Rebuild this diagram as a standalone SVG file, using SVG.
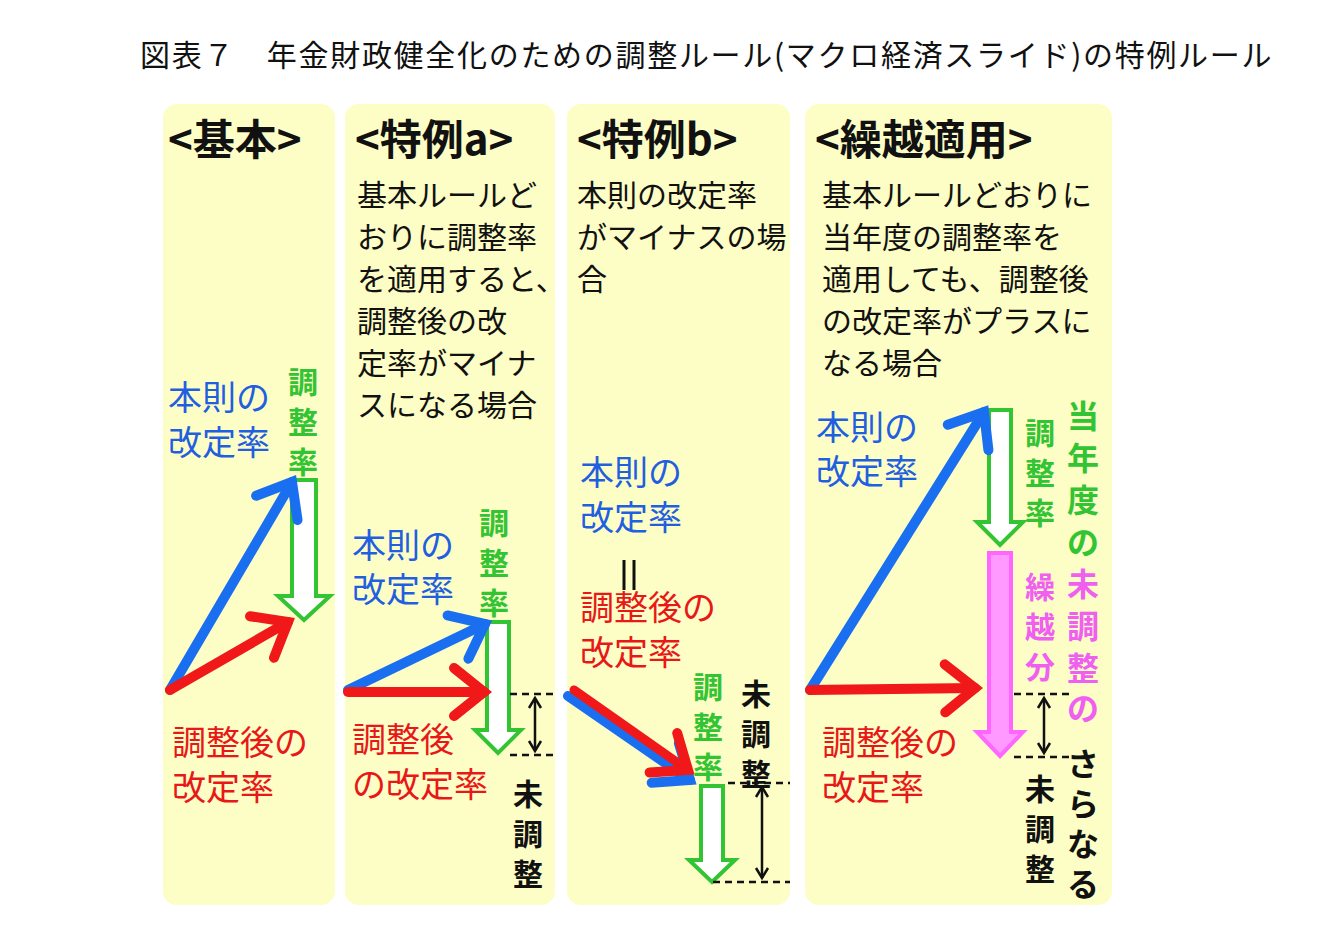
<svg xmlns="http://www.w3.org/2000/svg" width="1317" height="936" viewBox="0 0 1317 936">
<style>
text{font-family:"Noto Sans CJK JP","Noto Sans",sans-serif}
.t{font-size:30px;fill:#111}
.h{font-size:42px;font-weight:bold;fill:#111}
.b{font-size:34px;fill:#1f5fe0}
.r{font-size:34px;fill:#e81818}
.g{font-size:30px;font-weight:bold;fill:#33c433;text-anchor:middle}
.p{font-size:30px;font-weight:bold;fill:#f060f0;text-anchor:middle}
.k{font-size:30px;font-weight:bold;fill:#111;text-anchor:middle}
.panel{fill:#fdfdc6}
.ha{fill:#fff;stroke:#33c433;stroke-width:4}
.dash{stroke:#111;stroke-width:2.5;stroke-dasharray:7 5}
.dbl{stroke:#111;stroke-width:2.5;marker-start:url(#mk);marker-end:url(#mk)}
</style>
<defs>
<marker id="mb" markerUnits="userSpaceOnUse" viewBox="-40 -30 50 60" markerWidth="50" markerHeight="60" refX="0" refY="0" orient="auto"><path d="M-30,-24 L0,0 L-30,24" fill="none" stroke="#1a6ff0" stroke-width="10" stroke-linecap="round"/></marker>
<marker id="mr" markerUnits="userSpaceOnUse" viewBox="-40 -30 50 60" markerWidth="50" markerHeight="60" refX="0" refY="0" orient="auto"><path d="M-30,-24 L0,0 L-30,24" fill="none" stroke="#f01818" stroke-width="10" stroke-linecap="round"/></marker>
<marker id="mk" markerUnits="userSpaceOnUse" viewBox="-12 -8 14 16" markerWidth="14" markerHeight="16" refX="0" refY="0" orient="auto-start-reverse"><path d="M-10,-6 L0,0 L-10,6" fill="none" stroke="#111" stroke-width="2.5"/></marker>
</defs>
<rect width="1317" height="936" fill="#fff"/>
<text x="140" y="66" style="font-size:30px;fill:#111;letter-spacing:1.7px">図表７　年金財政健全化のための調整ルール(マクロ経済スライド)の特例ルール</text>

<g id="panel1">
<rect class="panel" x="163" y="104" width="172" height="801" rx="14"/>
<text class="h" x="168" y="155">&lt;基本&gt;</text>
<text class="b" x="168" y="410">本則の</text><text class="b" x="168" y="455">改定率</text>
<text class="g" x="303" y="393">調</text><text class="g" x="303" y="433">整</text><text class="g" x="303" y="473">率</text>
<path class="ha" d="M292,480 H316 V596 H330 L304,620 L278,596 H292 Z"/>
<text class="r" x="172" y="755">調整後の</text><text class="r" x="172" y="800">改定率</text>
</g>

<g id="panel2">
<rect class="panel" x="345" y="104" width="210" height="801" rx="14"/>
<text class="h" x="355" y="155">&lt;特例a&gt;</text>
<text class="t" x="357" y="206">基本ルールど</text><text class="t" x="357" y="248">おりに調整率</text><text class="t" x="357" y="290">を適用すると、</text><text class="t" x="357" y="332">調整後の改</text><text class="t" x="357" y="374">定率がマイナ</text><text class="t" x="357" y="416">スになる場合</text>
<text class="b" x="352" y="558">本則の</text><text class="b" x="352" y="602">改定率</text>
<text class="g" x="494" y="534">調</text><text class="g" x="494" y="574">整</text><text class="g" x="494" y="614">率</text>
<path class="ha" d="M487,622 H509 V730 H521 L498,753 L475,730 H487 Z"/>
<text class="r" x="352" y="752">調整後</text><text class="r" x="352" y="797">の改定率</text>
<text class="k" x="528" y="805">未</text><text class="k" x="528" y="845">調</text><text class="k" x="528" y="885">整</text>
</g>

<g id="panel3">
<rect class="panel" x="567" y="104" width="223" height="801" rx="14"/>
<text class="h" x="577" y="155">&lt;特例b&gt;</text>
<text class="t" x="577" y="206">本則の改定率</text><text class="t" x="577" y="248">がマイナスの場</text><text class="t" x="577" y="290">合</text>
<text class="b" x="580" y="485">本則の</text><text class="b" x="580" y="530">改定率</text>
<line x1="624" y1="560" x2="624" y2="590" stroke="#111" stroke-width="3"/><line x1="634" y1="560" x2="634" y2="590" stroke="#111" stroke-width="3"/>
<text class="r" x="580" y="620">調整後の</text><text class="r" x="580" y="665">改定率</text>
<text class="g" x="708" y="698">調</text><text class="g" x="708" y="738">整</text><text class="g" x="708" y="778">率</text>
<path class="ha" d="M701,786 H723 V860 H735 L712,882 L689,860 H701 Z"/>
<text class="k" x="756" y="705">未</text><text class="k" x="756" y="745">調</text><text class="k" x="756" y="785">整</text>
</g>

<g id="panel4">
<rect class="panel" x="805" y="104" width="307" height="801" rx="14"/>
<text class="h" x="815" y="155">&lt;繰越適用&gt;</text>
<text class="t" x="822" y="206">基本ルールどおりに</text><text class="t" x="822" y="248">当年度の調整率を</text><text class="t" x="822" y="290">適用しても、調整後</text><text class="t" x="822" y="332">の改定率がプラスに</text><text class="t" x="822" y="374">なる場合</text>
<text class="b" x="816" y="440">本則の</text><text class="b" x="816" y="484">改定率</text>
<text class="g" x="1040" y="444">調</text><text class="g" x="1040" y="484">整</text><text class="g" x="1040" y="524">率</text>
<path class="ha" d="M989,410 H1011 V522 H1023 L1000,545 L977,522 H989 Z"/>
<path d="M989,553 H1011 V732 H1023 L1000,756 L977,732 H989 Z" fill="#ff99ff" stroke="#ff66ff" stroke-width="4"/>
<text class="p" x="1040" y="598">繰</text><text class="p" x="1040" y="638">越</text><text class="p" x="1040" y="678">分</text>
<text class="g" x="1083" y="428" style="font-size:32px">当</text><text class="g" x="1083" y="470" style="font-size:32px">年</text><text class="g" x="1083" y="512" style="font-size:32px">度</text><text class="g" x="1083" y="554" style="font-size:32px">の</text>
<text class="p" x="1083" y="596" style="font-size:32px">未</text><text class="p" x="1083" y="638" style="font-size:32px">調</text><text class="p" x="1083" y="680" style="font-size:32px">整</text><text class="p" x="1083" y="720" style="font-size:32px">の</text>
<text class="k" x="1040" y="800">未</text><text class="k" x="1040" y="840">調</text><text class="k" x="1040" y="880">整</text>
<text class="k" x="1083" y="776" style="font-size:32px">さ</text><text class="k" x="1083" y="816" style="font-size:32px">ら</text><text class="k" x="1083" y="856" style="font-size:32px">な</text><text class="k" x="1083" y="896" style="font-size:32px">る</text>
<text class="r" x="822" y="755">調整後の</text><text class="r" x="822" y="800">改定率</text>
</g>

<g id="connectors">
<line x1="170" y1="690" x2="292" y2="482" stroke="#1a6ff0" stroke-width="10" stroke-linecap="round" marker-end="url(#mb)"/>
<line x1="170" y1="690" x2="288" y2="622" stroke="#f01818" stroke-width="10" stroke-linecap="round" marker-end="url(#mr)"/>
<line x1="348" y1="690" x2="485" y2="624" stroke="#1a6ff0" stroke-width="10" stroke-linecap="round" marker-end="url(#mb)"/>
<line x1="348" y1="692" x2="484" y2="692" stroke="#f01818" stroke-width="10" stroke-linecap="round" marker-end="url(#mr)"/>
<line x1="510" y1="694" x2="555" y2="694" class="dash"/><line x1="510" y1="755" x2="555" y2="755" class="dash"/>
<line x1="535" y1="698" x2="535" y2="751" class="dbl"/>
<line x1="568" y1="696" x2="690" y2="780" stroke="#1a6ff0" stroke-width="10" stroke-linecap="round" marker-end="url(#mb)"/>
<line x1="574" y1="690" x2="688" y2="770" stroke="#f01818" stroke-width="9" stroke-linecap="round" marker-end="url(#mr)"/>
<line x1="728" y1="783" x2="790" y2="783" class="dash"/><line x1="713" y1="882" x2="790" y2="882" class="dash"/>
<line x1="762" y1="787" x2="762" y2="878" class="dbl"/>
<line x1="810" y1="690" x2="984" y2="412" stroke="#1a6ff0" stroke-width="10" stroke-linecap="round" marker-end="url(#mb)"/>
<line x1="810" y1="690" x2="975" y2="688" stroke="#f01818" stroke-width="10" stroke-linecap="round" marker-end="url(#mr)"/>
<line x1="1014" y1="694" x2="1070" y2="694" class="dash"/><line x1="1014" y1="757" x2="1070" y2="757" class="dash"/>
<line x1="1044" y1="698" x2="1044" y2="753" class="dbl"/>
</g>
</svg>
